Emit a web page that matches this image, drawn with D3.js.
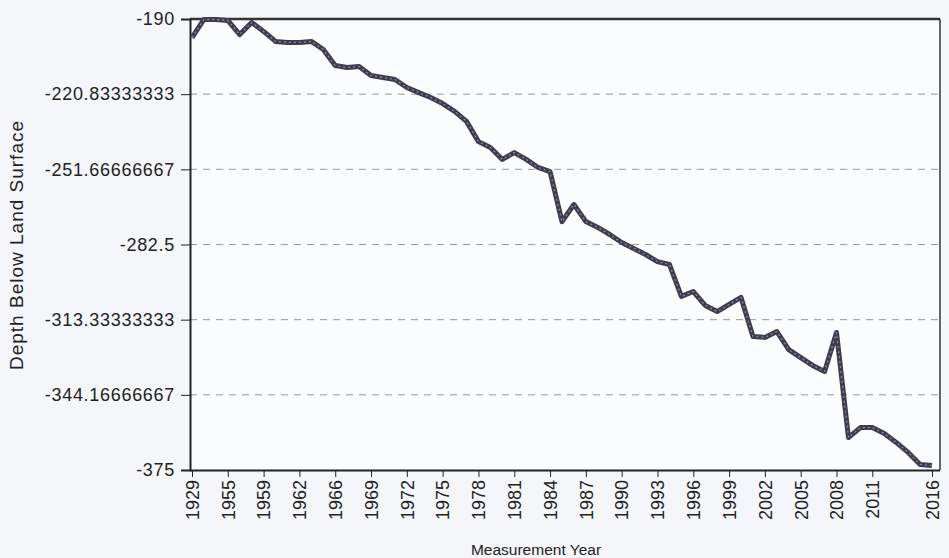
<!DOCTYPE html>
<html>
<head>
<meta charset="utf-8">
<script src="https://d3js.org/d3.v7.min.js"></script>
<style>
  body { margin: 0; background: #f4f6f9; }
  svg { display: block; }
  .axis text { font-family: "Liberation Sans", Arial, sans-serif; fill: #222; }
  .axis path, .axis line { stroke: #222; }
</style>
</head>
<body>
<script>
// measurement years, one per reading
var years = [1929, 1951, 1953, 1955, 1956, 1957, 1959, 1960, 1961, 1962, 1963, 1965, 1966, 1967, 1968,
  1969, 1970, 1971, 1972, 1973, 1974, 1975, 1976, 1977, 1978, 1979, 1980, 1981, 1982, 1983,
  1984, 1985, 1986, 1987, 1988, 1989, 1990, 1991, 1992, 1993, 1994, 1995, 1996, 1997, 1998,
  1999, 2000, 2001, 2002, 2003, 2004, 2005, 2006, 2007, 2008, 2009, 2010, 2011, 2012, 2013,
  2014, 2015, 2016];

// depth below land surface (ft)
var depth = [-197.6, -190.2, -190.2, -190.6, -196.4, -191.4, -195.1, -199.2, -199.6, -199.6,
  -199.2, -202.5, -209.1, -209.9, -209.5, -213.2, -214.0, -214.8, -218.1, -220.2,
  -222.2, -224.7, -227.9, -232.0, -240.3, -242.7, -247.6, -244.8, -247.6, -250.9,
  -252.6, -273.1, -266.1, -273.1, -275.5, -278.4, -281.7, -284.1, -286.6, -289.5,
  -290.7, -303.8, -301.8, -307.5, -310.0, -307.1, -304.2, -320.2, -320.6, -318.2,
  -325.6, -328.9, -332.1, -334.6, -318.6, -361.7, -357.6, -357.6, -360.0, -363.7,
  -367.8, -372.7, -373.2];

// which readings get a year label
var xTickIdx = [0, 3, 6, 9, 12, 15, 18, 21, 24, 27, 30, 33, 36, 39, 42, 45, 48, 51, 54, 57, 62];

var yTicks = [-190, -220.83333333, -251.66666667, -282.5, -313.33333333, -344.16666667, -375];
var yTickLabels = ["-190", "-220.83333333", "-251.66666667", "-282.5", "-313.33333333", "-344.16666667", "-375"];

var width = 949, height = 558;
var plotL = 190, plotR = 940, plotT = 19, plotB = 470;

var svg = d3.select("body").append("svg")
    .attr("width", width)
    .attr("height", height);

var x = d3.scaleLinear().domain([0, years.length - 1]).range([192, 932]);
var y = d3.scaleLinear().domain([-190, -375]).range([plotT, plotB]);

svg.append("rect")
    .attr("x", plotL).attr("y", plotT)
    .attr("width", plotR - plotL).attr("height", plotB - plotT)
    .style("fill", "#fbfcfd");

// dashed grid
svg.append("g").selectAll("line")
    .data(yTicks.slice(1, -1))
    .enter().append("line")
    .attr("x1", plotL).attr("x2", plotR)
    .attr("y1", function(d) { return y(d); })
    .attr("y2", function(d) { return y(d); })
    .style("stroke", "#999")
    .style("stroke-dasharray", "7,6")
    .style("stroke-width", 1);

// frame top and right
svg.append("line").attr("x1", plotL).attr("x2", plotR).attr("y1", plotT).attr("y2", plotT)
    .style("stroke", "#333").style("stroke-width", 2.5);
svg.append("line").attr("x1", plotR).attr("x2", plotR).attr("y1", plotT).attr("y2", plotB)
    .style("stroke", "#333").style("stroke-width", 1.5);

var yAxis = d3.axisLeft(y)
    .tickValues(yTicks)
    .tickFormat(function(d, i) { return yTickLabels[i]; })
    .tickSizeOuter(0)
    .tickSize(9)
    .tickPadding(6);

var gy = svg.append("g")
    .attr("class", "axis")
    .attr("transform", "translate(" + plotL + ",0)")
    .call(yAxis);
gy.selectAll("text").style("font-size", "18px").style("letter-spacing", "0.7px");
gy.select(".domain").style("stroke-width", 2);

var xAxis = d3.axisBottom(x)
    .tickValues(xTickIdx)
    .tickFormat(function(d) { return years[d]; })
    .tickSizeOuter(0)
    .tickSize(7);

var gx = svg.append("g")
    .attr("class", "axis")
    .attr("transform", "translate(0," + plotB + ")")
    .call(xAxis);
gx.select(".domain").attr("d", "M" + plotL + ",0.5H" + plotR).style("stroke-width", 2);
gx.selectAll("text")
    .style("font-size", "18px")
    .attr("transform", "rotate(-90)")
    .attr("x", -10)
    .attr("y", 0)
    .attr("dy", "0.35em")
    .style("text-anchor", "end");

// the water level line
var line = d3.line()
    .x(function(d, i) { return x(i); })
    .y(function(d) { return y(d); });

svg.append("path")
    .datum(depth)
    .attr("d", line)
    .style("fill", "none")
    .style("stroke", "#3f3c4e")
    .style("stroke-width", 5)
    .style("stroke-linejoin", "round");
svg.append("path")
    .datum(depth)
    .attr("d", line)
    .style("fill", "none")
    .style("stroke", "#8d86a6")
    .style("stroke-width", 1.3)
    .style("stroke-dasharray", "2,3")
    .style("stroke-linejoin", "round");

svg.append("text")
    .attr("x", 536).attr("y", 555)
    .style("text-anchor", "middle")
    .style("font-family", "Liberation Sans, Arial, sans-serif")
    .style("font-size", "15.5px")
    .style("fill", "#222")
    .text("Measurement Year");

svg.append("text")
    .attr("transform", "translate(23,245) rotate(-90)")
    .style("text-anchor", "middle")
    .style("font-family", "Liberation Sans, Arial, sans-serif")
    .style("font-size", "19px")
    .style("letter-spacing", "1px")
    .style("fill", "#222")
    .text("Depth Below Land Surface");
</script>
</body>
</html>
